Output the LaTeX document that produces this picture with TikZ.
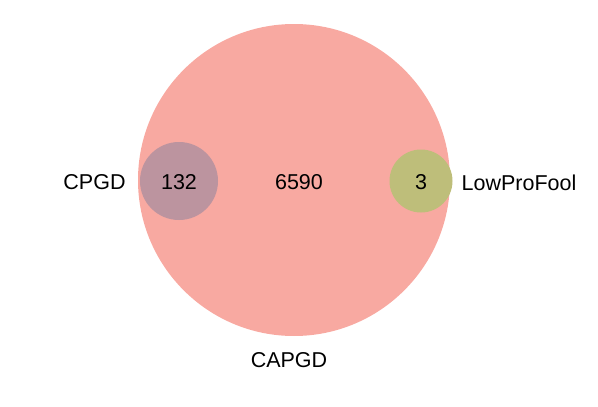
\documentclass[tikz,border=0pt]{standalone}
\usepackage{fontspec}
\setmainfont{Liberation Sans}
\begin{document}
\begin{tikzpicture}[x=1pt,y=-1pt,
  lbl/.style={font=\fontsize{21.5}{24}\selectfont, inner sep=0pt, anchor=base}]
\useasboundingbox (0,0) rectangle (598,407);
\definecolor{capgd}{HTML}{F8A9A1}
\definecolor{cpgd}{HTML}{BC949F}
\definecolor{lpf}{HTML}{BEBE7A}
\fill[capgd] (294,180) circle (156);
\fill[cpgd] (179,181) circle (39);
\fill[lpf] (421,181) circle (31.5);
\node[lbl] (n132) at (179,189) {132};
\node[lbl] (n6590) at (299,189) {6590};
\node[lbl] (n3) at (421,189) {3};
\node[lbl] (cpgd) at (94.5,189) {CPGD};
\node[lbl, anchor=base west] (lpf) at (461.5,190) {LowProFool};
\node[lbl] (capgd) at (289,367) {CAPGD};
\end{tikzpicture}
\end{document}
